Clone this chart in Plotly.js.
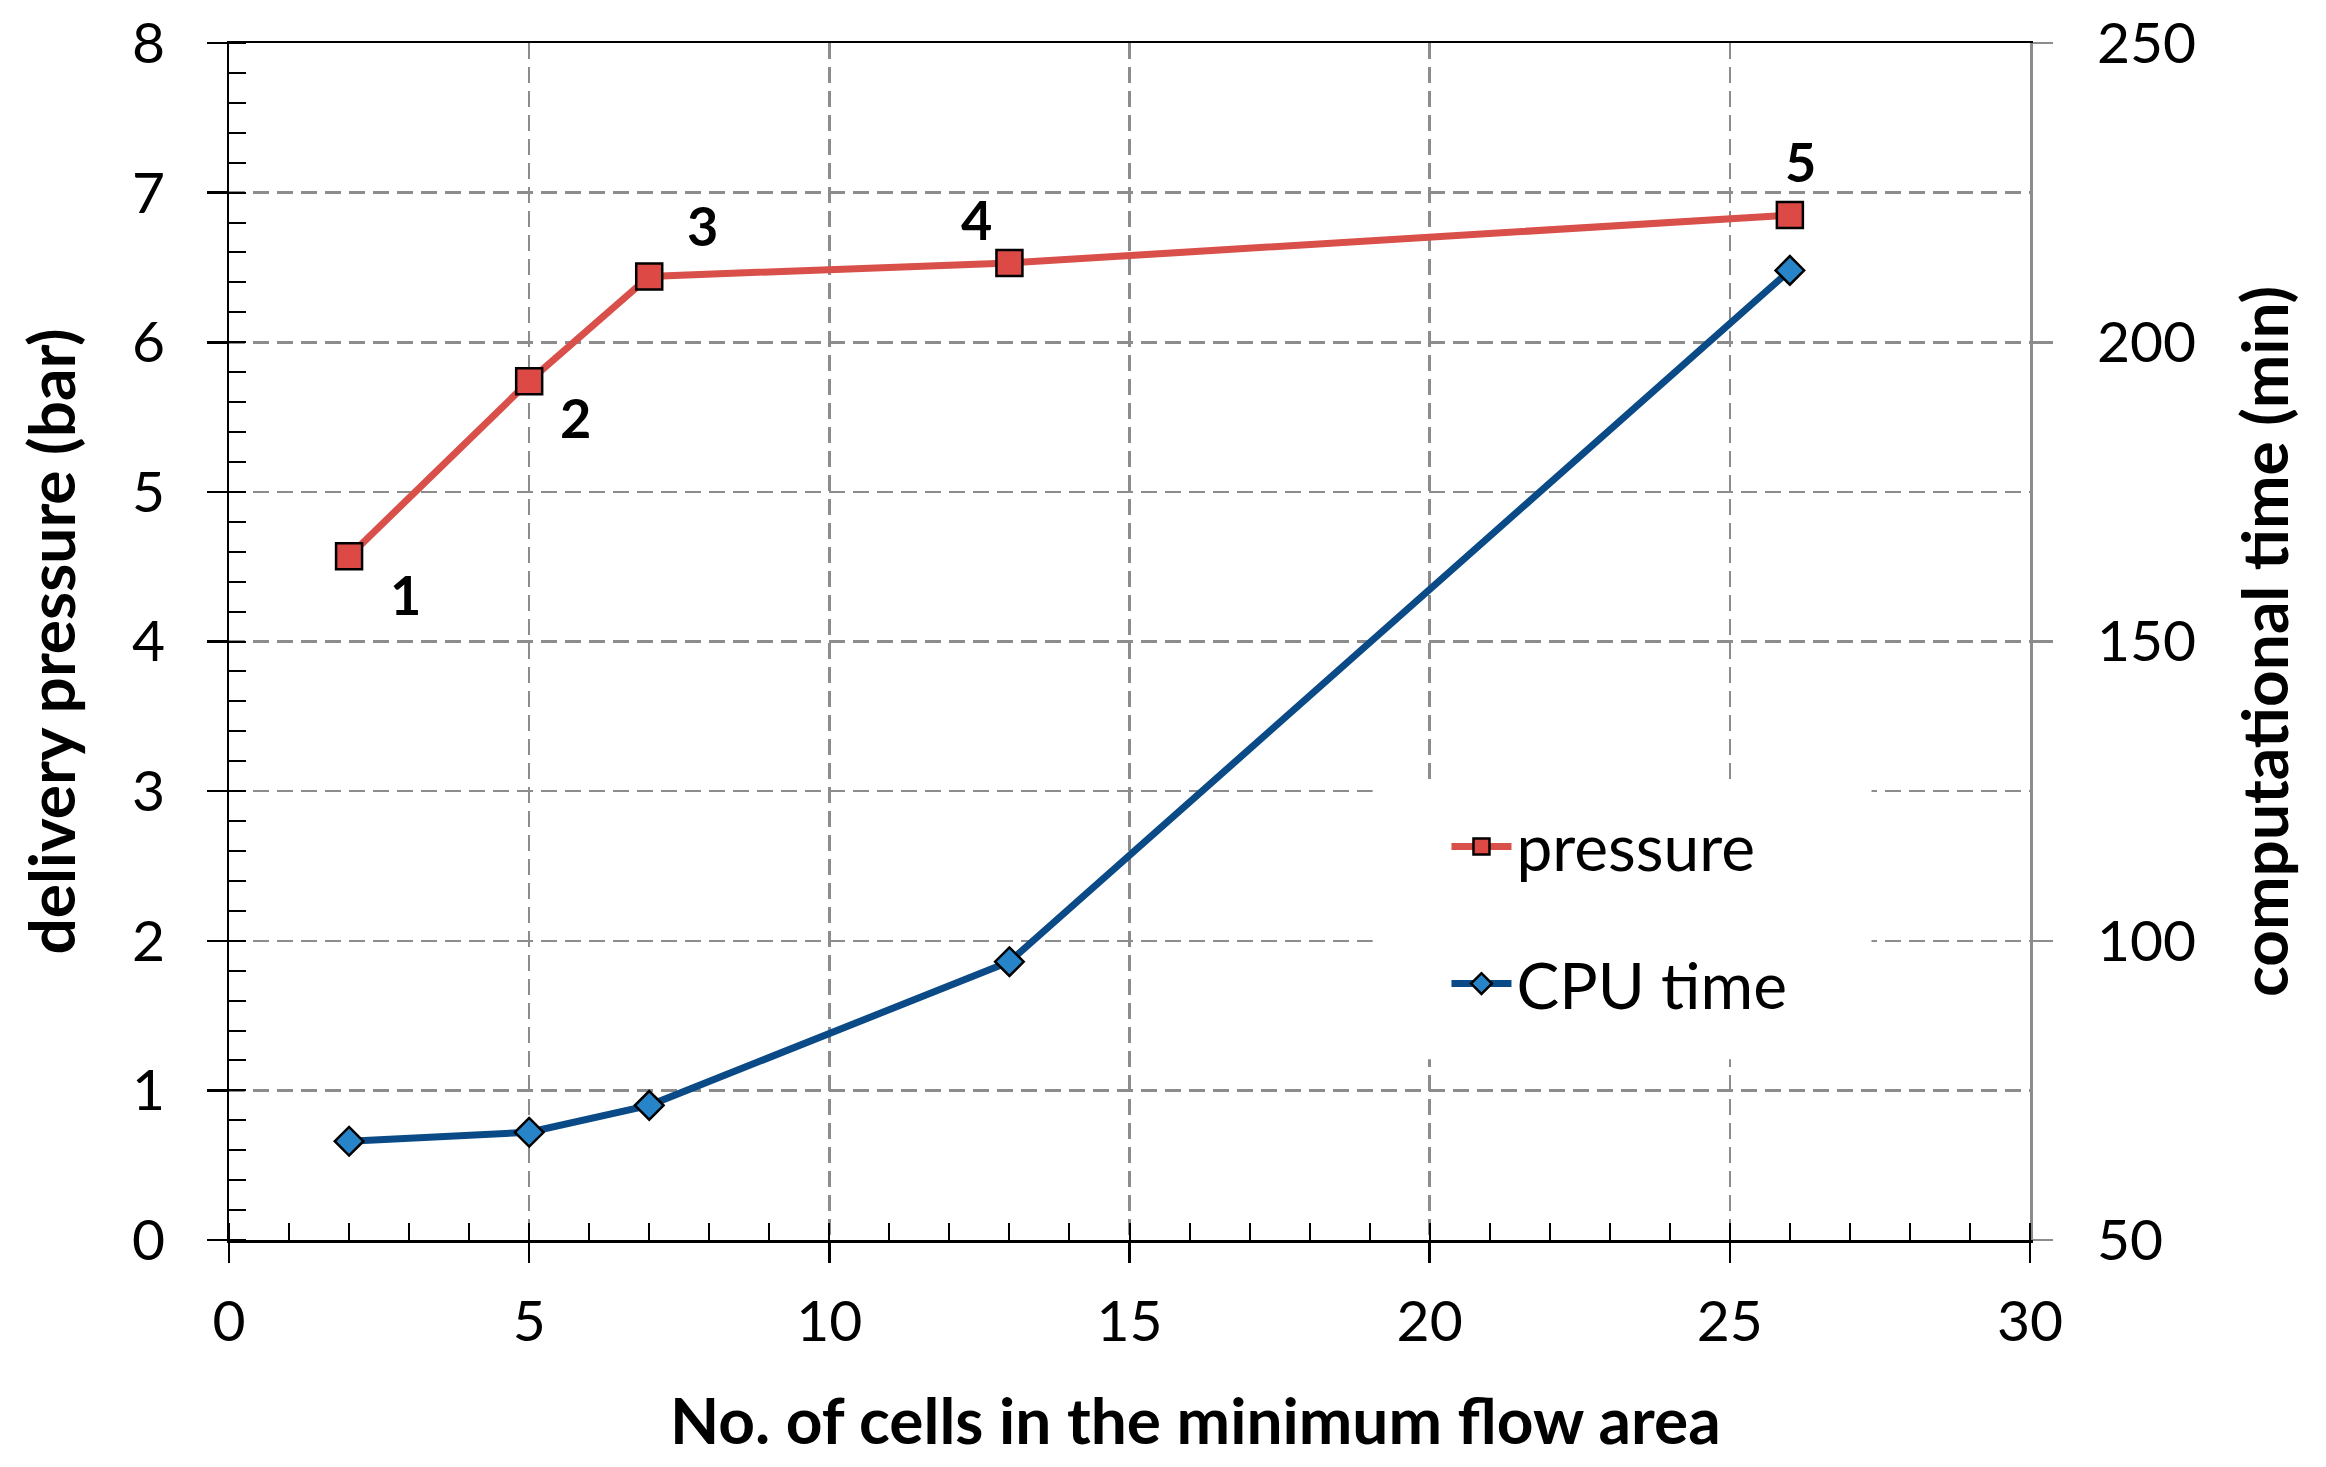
<!DOCTYPE html>
<html>
<head>
<meta charset="utf-8">
<script src="https://cdn.plot.ly/plotly-3.0.1.min.js"></script>
<style>
  html, body { margin: 0; padding: 0; background: #ffffff; }
  #chart { width: 2326px; height: 1467px; }
</style>
</head>
<body>
<div id="chart"></div>
<script>
// ---- data ----
const cells = [2, 5, 7, 13, 26];
const pressure = [4.57, 5.74, 6.44, 6.53, 6.85];
const cpuTime = [66.5, 68, 72.5, 96.5, 212];
const pointLabels = ['1', '2', '3', '4', '5'];
const xTickVals = [0, 5, 10, 15, 20, 25, 30];
const yTickVals = [0, 1, 2, 3, 4, 5, 6, 7, 8];
const y2TickVals = [50, 100, 150, 200, 250];
const seriesNames = ['pressure', 'CPU time'];
const xTitle = 'No. of cells in the minimum flow area';
const yTitle = 'delivery pressure (bar)';
const y2Title = 'computational time (min)';

// ---- styling ----
const FONT = 'Lato, "Open Sans", sans-serif';
const RED = 'rgb(217,79,74)';
const RED_FILL = 'rgb(221,74,70)';
const BLUE = 'rgb(10,74,134)';
const BLUE_FILL = 'rgb(40,132,200)';
const GRID = 'rgb(140,140,140)';

const traces = [
  {
    x: cells, y: pressure, name: seriesNames[0], type: 'scatter', mode: 'lines+markers',
    yaxis: 'y', legendgroup: 'a',
    line: { color: RED, width: 7 },
    marker: { symbol: 'square', size: 26, color: RED_FILL, line: { color: '#000', width: 2.5 } }
  },
  {
    x: cells, y: cpuTime, name: seriesNames[1], type: 'scatter', mode: 'lines+markers',
    yaxis: 'y2', legendgroup: 'b',
    line: { color: BLUE, width: 7 },
    marker: { symbol: 'diamond', size: 22, color: BLUE_FILL, line: { color: '#000', width: 2.5 } }
  }
];

const labelShift = [[56, -38], [46, -36], [53, 51], [-33, 43], [11, 54]];
const annotations = pointLabels.map((t, i) => ({
  x: cells[i], y: pressure[i], xref: 'x', yref: 'y',
  text: t, showarrow: false,
  xshift: labelShift[i][0], yshift: labelShift[i][1],
  font: { family: FONT, size: 54, color: '#000', weight: 'bold' }
}));
// x-axis title (sits slightly right of centre in the reference)
annotations.push({
  xref: 'paper', yref: 'paper', x: 0.5364, y: -0.150,
  xanchor: 'center', yanchor: 'middle', showarrow: false,
  text: xTitle,
  font: { family: FONT, size: 64, color: '#000', weight: 'bold' }
});

const layout = {
  width: 2326, height: 1467,
  paper_bgcolor: '#fff', plot_bgcolor: '#fff',
  margin: { l: 229, r: 296, t: 43, b: 227 },
  font: { family: FONT, size: 56, color: '#000' },
  showlegend: true,
  legend: {
    x: 0.676, y: 0.369, xanchor: 'left', yanchor: 'top',
    bgcolor: 'rgba(0,0,0,0)', borderwidth: 0,
    font: { family: FONT, size: 64, color: '#000' },
    tracegroupgap: 51, traceorder: 'grouped', itemwidth: 60
  },
  shapes: [{
    type: 'rect', xref: 'paper', yref: 'paper', layer: 'above',
    x0: 0.635, x1: 0.912, y0: 0.151, y1: 0.382,
    fillcolor: '#fff', line: { width: 0 }
  }],
  xaxis: {
    range: [0, 30], tickvals: xTickVals, autorange: false,
    showline: true, linecolor: '#000', linewidth: 2.5, mirror: true,
    ticks: 'outside', ticklen: 20, tickwidth: 2.5, tickcolor: '#000',
    ticklabelstandoff: 10,
    minor: { dtick: 1, ticks: 'inside', ticklen: 17, tickwidth: 2, tickcolor: '#000', showgrid: false },
    showgrid: true, gridcolor: GRID, gridwidth: 2.5, griddash: '16px,8px',
    zeroline: false,
    tickfont: { family: FONT, size: 57, color: '#000' },
    automargin: false
  },
  yaxis: {
    range: [0, 8], tickvals: yTickVals, autorange: false,
    showline: true, linecolor: '#000', linewidth: 2.5,
    ticks: 'outside', ticklen: 20, tickwidth: 2.5, tickcolor: '#000',
    ticklabelstandoff: 30,
    minor: { dtick: 0.2, ticks: 'inside', ticklen: 17, tickwidth: 2, tickcolor: '#000', showgrid: false },
    showgrid: true, gridcolor: GRID, gridwidth: 2.5, griddash: '16px,8px',
    zeroline: false,
    tickfont: { family: FONT, size: 57, color: '#000' },
    title: { text: yTitle, standoff: 36, font: { family: FONT, size: 64, color: '#000', weight: 'bold' } },
    automargin: false
  },
  yaxis2: {
    range: [50, 250], tickvals: y2TickVals, autorange: false,
    overlaying: 'y', side: 'right',
    showline: true, linecolor: GRID, linewidth: 2.5,
    ticks: 'outside', ticklen: 20, tickwidth: 2.5, tickcolor: GRID,
    ticklabelstandoff: 33,
    showgrid: false, zeroline: false,
    tickfont: { family: FONT, size: 57, color: '#000' },
    title: { text: y2Title, standoff: 48, font: { family: FONT, size: 64, color: '#000', weight: 'bold' } },
    automargin: false
  },
  annotations: annotations
};

Plotly.newPlot('chart', traces, layout, { displayModeBar: false, staticPlot: true });
</script>
</body>
</html>
